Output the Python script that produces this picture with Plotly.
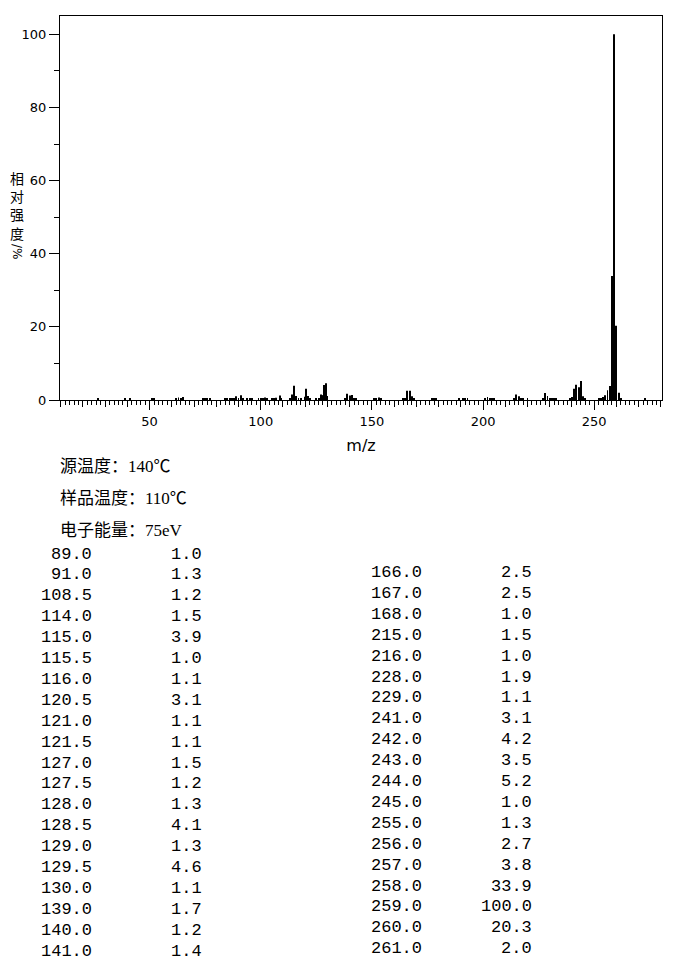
import plotly.graph_objects as go

# peaks (m/z, relative intensity %)
mz = [27, 39, 41, 51, 52, 62, 63, 64, 65, 74, 75, 76, 77, 84, 85, 86, 87, 88, 89, 90,
      91, 92, 94, 95, 96, 99, 100, 101, 102, 103, 105, 106, 107, 108.5, 109, 113, 114, 115, 115.5, 116,
      117, 118, 120, 120.5, 121, 121.5, 122, 125, 126, 127, 127.5, 128, 128.5, 129, 129.5, 130,
      138, 139, 140, 141, 142, 143, 151, 152, 153, 154, 164, 165, 166, 167, 168, 169,
      177, 178, 179, 189, 191, 192, 193, 201, 202, 203, 204, 205, 214, 215, 216, 217, 218, 220,
      227, 228, 229, 230, 231, 232, 233, 239, 240, 241, 242, 243, 244, 245, 246,
      252, 253, 254, 255, 256, 257, 258, 259, 260, 261, 262, 273]
intensity = [0.4, 0.5, 0.3, 0.5, 0.3, 0.3, 0.7, 0.3, 0.8, 0.3, 0.3, 0.4, 0.3, 0.3, 0.4, 0.4, 0.4, 0.4, 1.0, 0.4,
             1.3, 0.3, 0.3, 0.5, 0.3, 0.3, 0.3, 0.4, 0.7, 0.3, 0.3, 0.3, 0.6, 1.2, 0.3, 0.5, 1.5, 3.9, 1.0, 1.1,
             0.3, 0.3, 0.9, 3.1, 1.1, 1.1, 0.3, 0.3, 0.5, 1.5, 1.2, 1.3, 4.1, 1.3, 4.6, 1.1,
             0.3, 1.7, 1.2, 1.4, 0.5, 0.3, 0.3, 0.5, 0.7, 0.3, 0.3, 0.3, 2.5, 2.5, 1.0, 0.3,
             0.3, 0.3, 0.3, 0.3, 0.3, 0.3, 0.3, 0.3, 0.8, 0.3, 0.5, 0.3, 0.3, 1.5, 1.0, 0.5, 0.5, 0.3,
             0.5, 1.9, 1.1, 0.5, 0.3, 0.3, 0.3, 0.3, 0.8, 3.1, 4.2, 3.5, 5.2, 1.0, 0.3,
             0.3, 0.3, 0.8, 1.3, 2.7, 3.8, 33.9, 100.0, 20.3, 2.0, 0.3, 0.3]

conditions = ["源温度：140℃", "样品温度：110℃", "电子能量：75eV"]

table_left_mz = ["89.0", "91.0", "108.5", "114.0", "115.0", "115.5", "116.0", "120.5", "121.0", "121.5",
                 "127.0", "127.5", "128.0", "128.5", "129.0", "129.5", "130.0", "139.0", "140.0", "141.0"]
table_left_int = ["1.0", "1.3", "1.2", "1.5", "3.9", "1.0", "1.1", "3.1", "1.1", "1.1",
                  "1.5", "1.2", "1.3", "4.1", "1.3", "4.6", "1.1", "1.7", "1.2", "1.4"]
table_right_mz = ["166.0", "167.0", "168.0", "215.0", "216.0", "228.0", "229.0", "241.0", "242.0", "243.0",
                  "244.0", "245.0", "255.0", "256.0", "257.0", "258.0", "259.0", "260.0", "261.0"]
table_right_int = ["2.5", "2.5", "1.0", "1.5", "1.0", "1.9", "1.1", "3.1", "4.2", "3.5",
                   "5.2", "1.0", "1.3", "2.7", "3.8", "33.9", "100.0", "20.3", "2.0"]

ylabel = "相<br>对<br>强<br>度"

# plot area in page pixels; the page body has an 8px margin
PAGE = 8
L, R, T, B = 60, 662, 16, 400


def px(x):
    return (x - L) / (R - L)


def py(y):
    return (B - y) / (B - T)


fig = go.Figure()
fig.add_trace(go.Bar(x=mz, y=intensity, width=0.42, marker_color="black",
                     marker_line_width=0, showlegend=False))
# empty trace so the medium-tick axis gets drawn
fig.add_trace(go.Scatter(x=[None], y=[None], xaxis="x2", yaxis="y", showlegend=False))

ann = []
for i, t in enumerate(conditions):
    ann.append(dict(text=t, x=px(58), y=py(466 + i * 32), xanchor="left", yanchor="middle",
                    font=dict(family="Liberation Serif, Noto Sans CJK SC", size=17)))

mono = dict(family="Liberation Mono", size=17, color="black")
for i in range(len(table_left_mz)):
    yy = py(554 + i * 20.9)
    ann.append(dict(text=table_left_mz[i], x=px(94), y=yy, xanchor="right", yanchor="middle", font=mono))
    ann.append(dict(text=table_left_int[i], x=px(204), y=yy, xanchor="right", yanchor="middle", font=mono))
for i in range(len(table_right_mz)):
    yy = py(572.5 + i * 20.9)
    ann.append(dict(text=table_right_mz[i], x=px(424), y=yy, xanchor="right", yanchor="middle", font=mono))
    ann.append(dict(text=table_right_int[i], x=px(534), y=yy, xanchor="right", yanchor="middle", font=mono))

ann.append(dict(text=ylabel, x=px(17), y=py(205), xanchor="center", yanchor="middle",
                font=dict(family="Noto Sans CJK SC", size=14)))
ann.append(dict(text="/%", x=px(17), y=py(251), xanchor="center", yanchor="middle", textangle=90,
                font=dict(family="DejaVu Sans", size=12)))

for a in ann:
    a.update(xref="paper", yref="paper", showarrow=False)
    a.setdefault("font", {})
    a["font"].setdefault("color", "black")

fig.update_layout(
    width=680 - PAGE, height=964 - PAGE,
    margin=dict(l=L - PAGE, r=680 - R, t=T - PAGE, b=964 - B, pad=0),
    paper_bgcolor="white", plot_bgcolor="white",
    font=dict(family="DejaVu Sans", size=13, color="black"),
    xaxis=dict(range=[9.7, 280.5], tick0=0, dtick=50, ticks="outside", ticklen=9, tickwidth=1,
               tickcolor="black", showgrid=False, zeroline=False, showline=True, linecolor="black",
               linewidth=1, mirror=True,
               minor=dict(dtick=2, tick0=0, ticks="outside", ticklen=4, tickcolor="black", tickwidth=1),
               title=dict(text="m/z", font=dict(family="DejaVu Sans", size=16), standoff=12)),
    xaxis2=dict(range=[9.7, 280.5], overlaying="x", side="bottom", tick0=0, dtick=10, ticks="outside",
                ticklen=6, tickwidth=1, tickcolor="black", showticklabels=False, showgrid=False,
                zeroline=False, showline=False),
    yaxis=dict(range=[0, 105], tick0=0, dtick=20, ticks="outside", ticklen=10, tickwidth=1,
               tickcolor="black", showgrid=False, zeroline=False, showline=True, linecolor="black",
               linewidth=1, mirror=True,
               minor=dict(dtick=10, tick0=0, ticks="outside", ticklen=5, tickcolor="black", tickwidth=1)),
    annotations=ann,
)

fig.write_html("out.html")
